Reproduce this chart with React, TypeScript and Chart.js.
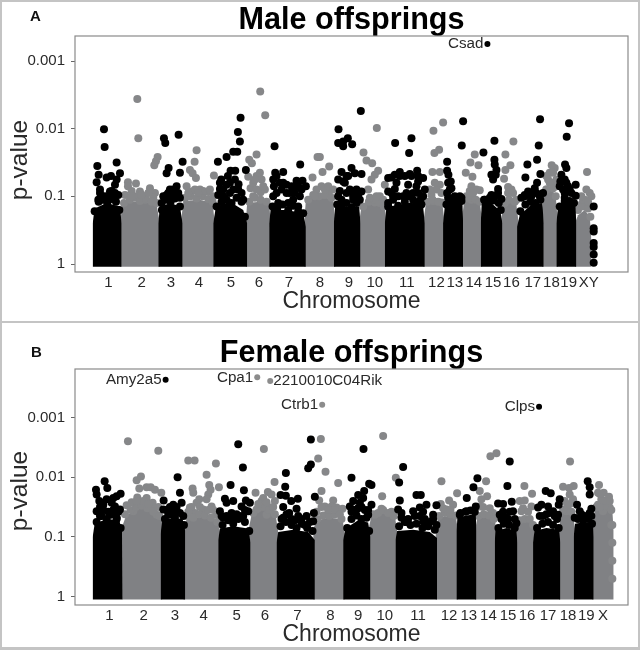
import React, { useEffect, useRef } from "react";
import { Chart, registerables } from "chart.js";

Chart.register(...registerables);

type P = [number, number];

const maleChromosomes = ["1","2","3","4","5","6","7","8","9","10","11","12","13","14","15","16","17","18","19","XY"];
const maleTickPositions = [325,425,513,597,693,777,867,960,1047,1125,1221,1310,1365,1422,1480,1535,1599,1655,1707,1767];
const femaleChromosomes = ["1","2","3","4","5","6","7","8","9","10","11","12","13","14","15","16","17","18","19","X"];
const femaleTickPositions = [328,431,525,611,710,795,893,992,1075,1155,1255,1348,1407,1466,1525,1582,1645,1705,1760,1810];
const pValueLabels = ["1", "0.1", "0.01", "0.001"];

const maleBlackMass: P[][] = [
  [[278,-.04],[278,.6],[284,.82],[320,.9],[360,.85],[365,.6],[365,-.04]],
  [[475,-.04],[475,.6],[480,.85],[512,.9],[540,.85],[548,.6],[548,-.04]],
  [[640,-.04],[640,.6],[648,.85],[690,.92],[730,.8],[742,.6],[742,-.04]],
  [[808,-.04],[808,.6],[812,.8],[860,.8],[910,.75],[918,.55],[918,-.04]],
  [[1002,-.04],[1002,.6],[1006,.85],[1045,.85],[1078,.85],[1082,.6],[1082,-.04]],
  [[1155,-.04],[1155,.6],[1160,.85],[1215,.88],[1270,.85],[1275,.6],[1275,-.04]],
  [[1330,-.04],[1330,.6],[1335,.85],[1360,.9],[1388,.9],[1390,.6],[1390,-.04]],
  [[1443,-.04],[1443,.6],[1446,.9],[1475,.9],[1502,.78],[1508,.6],[1508,-.04]],
  [[1552,-.04],[1552,.55],[1560,.72],[1595,.88],[1628,.9],[1632,.6],[1632,-.04]],
  [[1670,-.04],[1670,.6],[1675,.85],[1700,.95],[1727,.88],[1730,.6],[1730,-.04]],
];
const maleGreyMass: P[][] = [
  [[360,-.04],[360,.6],[368,.9],[420,.93],[470,.88],[480,.6],[480,-.04]],
  [[543,-.04],[543,.6],[550,.93],[600,.95],[638,.9],[645,.6],[645,-.04]],
  [[737,-.04],[737,.6],[742,.9],[780,.92],[808,.88],[813,.6],[813,-.04]],
  [[913,-.04],[913,.6],[918,.95],[965,1.0],[1000,.95],[1007,.6],[1007,-.04]],
  [[1077,-.04],[1077,.6],[1085,.85],[1125,.9],[1155,.85],[1160,.6],[1160,-.04]],
  [[1270,-.04],[1270,.6],[1278,.88],[1305,.92],[1328,.88],[1335,.6],[1335,-.04]],
  [[1385,-.04],[1385,.6],[1393,.92],[1420,.95],[1440,.92],[1448,.6],[1448,-.04]],
  [[1503,-.04],[1503,.6],[1510,.85],[1530,.92],[1550,.88],[1557,.6],[1557,-.04]],
  [[1627,-.04],[1627,.8],[1635,1.08],[1652,1.15],[1668,1.0],[1675,.6],[1675,-.04]],
  [[1725,-.04],[1725,.6],[1735,.72],[1755,.8],[1770,.7],[1775,.4],[1775,-.04]],
];
const maleBlackDots: P[] = [
  [312,1.99],[314,1.73],[292,1.45],[350,1.50],[360,1.34],[296,1.32],[290,1.21],[320,1.28],[333,1.30],[350,1.25],[345,1.17],[330,1.07],[320,1.00],[295,.95],[340,.98],
  [492,1.86],[496,1.79],[536,1.91],[506,1.42],[548,1.51],[500,1.34],[540,1.35],[530,1.15],[510,1.10],[500,1.02],[525,1.00],[485,.90],[540,.98],
  [722,2.16],[714,1.95],[720,1.81],[700,1.66],[712,1.66],[680,1.58],[654,1.51],[738,1.39],[692,1.38],[706,1.38],[664,1.25],[684,1.30],[680,1.17],[660,1.11],[716,1.18],[715,1.10],[690,1.05],[730,.95],[670,1.00],
  [824,1.74],[901,1.47],[826,1.35],[850,1.36],[820,1.25],[822,1.15],[850,1.20],[860,1.17],[890,1.23],[908,1.23],[918,1.15],[860,1.05],[880,1.12],[820,1.00],[900,1.00],[880,.95],[835,.9],[865,.9],[895,.85],
  [1016,1.99],[1083,2.26],[1044,1.86],[1015,1.79],[1030,1.81],[1030,1.74],[1057,1.77],[1055,1.42],[1065,1.34],[1085,1.33],[1025,1.36],[1015,1.25],[1030,1.22],[1045,1.30],[1050,1.10],[1070,1.10],[1085,1.07],[1015,1.00],[1025,.95],[1070,.95],
  [1235,1.86],[1186,1.79],[1228,1.64],[1252,1.38],[1200,1.36],[1185,1.32],[1230,1.33],[1165,1.27],[1200,1.30],[1235,1.30],[1270,1.27],[1255,1.22],[1250,1.15],[1225,1.17],[1185,1.11],[1165,1.07],[1275,1.10],[1180,1.00],[1210,1.00],[1270,1.00],[1240,.95],[1165,.85],
  [1390,2.11],[1386,1.75],[1342,1.51],[1342,1.38],[1346,1.32],[1353,1.22],[1355,1.12],[1342,1.05],[1385,.98],[1375,.95],[1355,.95],
  [1451,1.65],[1484,1.82],[1484,1.54],[1485,1.47],[1490,1.39],[1475,1.32],[1488,1.32],[1480,1.25],[1495,1.11],[1505,.96],[1475,1.02],[1455,.95],
  [1621,2.14],[1617,1.75],[1612,1.54],[1583,1.47],[1577,1.28],[1622,1.33],[1612,1.20],[1605,1.12],[1585,1.07],[1565,.98],[1630,1.05],[1595,1.00],
  [1708,2.08],[1701,1.88],[1696,1.47],[1700,1.42],[1685,1.32],[1682,1.22],[1705,1.15],[1728,1.17],[1728,1.01],[1695,1.05],[1695,.93],
  [1782,.85],[1782,.53],[1782,.48],[1782,.31],[1782,.25],[1782,.14],[1782,.02],
];
const maleBlackCrest: P[] = [
  [284,.78],[296,.92],[308,.95],[322,.9],[335,.96],[348,.92],[358,.8],
  [486,.8],[498,.95],[512,.92],[525,.97],[540,.85],
  [650,.85],[665,.92],[680,.95],[695,.9],[710,.98],[725,.92],[735,.7],
  [818,.85],[832,.82],[848,.88],[865,.8],[880,.86],[895,.78],[910,.75],
  [1012,.88],[1025,.85],[1040,.9],[1055,.84],[1070,.9],
  [1165,.9],[1180,.95],[1195,.86],[1215,.92],[1232,.85],[1250,.9],[1265,.88],
  [1340,.88],[1355,.92],[1372,.95],[1385,.93],
  [1453,.95],[1468,.92],[1482,.94],[1497,.9],[1503,.8],
  [1562,.78],[1577,.88],[1592,.92],[1607,.9],[1622,.95],
  [1680,.85],[1695,.98],[1710,.93],[1723,.9],
  [300,1.05],[310,1.0],[335,1.08],[345,1.05],[355,1.02],[300,1.1],
  [490,1.0],[505,1.05],[520,1.1],[535,1.05],[515,1.0],
  [655,1.02],[670,1.1],[700,1.1],[725,1.05],[705,1.25],[690,1.2],[660,1.2],
  [830,1.05],[845,1.1],[870,1.05],[905,1.1],[885,1.05],[875,1.15],[840,1.2],[830,1.3],[895,1.15],
  [1040,1.3],[1035,1.2],[1055,1.08],[1060,1.0],[1040,1.05],[1075,1.02],[1080,.95],[1060,.95],[1020,1.08],
  [1215,1.3],[1175,1.28],[1190,1.2],[1175,1.05],[1195,1.0],[1220,1.05],[1240,1.05],[1255,1.05],[1262,.95],[1225,1.0],[1255,1.3],
  [1345,1.2],[1350,1.1],[1345,.98],[1365,1.0],[1380,1.0],
  [1470,.98],[1485,1.0],[1495,1.05],
  [1575,1.02],[1590,1.05],[1600,1.05],[1610,1.05],[1575,1.0],[1620,1.0],
  [1690,1.1],[1700,1.2],[1710,1.1],[1680,1.15],[1715,1.05],[1695,1.25],
];
const maleGreyDots: P[] = [
  [412,2.44],[415,1.86],[384,1.21],[384,1.15],[408,1.19],[375,1.02],[420,1.07],[450,1.12],[465,1.05],[460,.98],[410,1.00],[435,.95],
  [473,1.58],[468,1.52],[463,1.46],
  [590,1.68],[584,1.51],[570,1.39],[578,1.34],[588,1.27],[642,1.31],[560,1.15],[600,1.10],[625,1.07],[575,1.07],[640,1.00],
  [781,2.55],[796,2.20],[770,1.62],[748,1.54],[756,1.49],[745,1.29],[780,1.35],[770,1.30],[785,1.25],[752,1.12],[782,1.06],[760,1.00],
  [953,1.58],[938,1.28],[988,1.44],[968,1.36],[960,1.58],[988,1.07],[965,1.15],
  [1131,2.01],[1091,1.65],[1100,1.53],[1117,1.49],[1135,1.38],[1125,1.32],[1115,1.25],[1155,1.17],[1105,1.10],[1125,.91],[1150,.95],
  [1330,2.09],[1301,1.97],[1318,1.69],[1304,1.64],[1298,1.36],[1320,1.36],[1320,1.17],[1310,1.10],[1300,.93],[1325,.91],[1295,1.02],
  [1425,1.62],[1412,1.50],[1436,1.46],[1398,1.35],[1418,1.29],[1415,1.15],[1440,1.09],[1400,1.00],[1415,.95],
  [1541,1.81],[1517,1.62],[1532,1.46],[1517,1.39],[1513,1.26],[1525,1.14],[1540,1.05],[1550,.95],
  [1656,1.46],[1665,1.42],[1645,1.25],[1655,1.20],[1670,1.15],[1640,1.10],
  [1762,1.36],[1760,1.10],[1770,1.05],[1775,1.00],[1755,.95],[1745,.88],
];
const maleGreyCrest: P[] = [
  [372,.9],[390,.95],[405,.98],[420,.93],[438,.96],[455,.92],[470,.9],
  [556,.98],[572,1.0],[590,.97],[608,1.0],[625,.96],[638,.92],
  [748,.92],[765,.98],[782,.95],[800,.92],
  [925,.95],[940,1.02],[958,1.0],[975,1.02],[995,.98],
  [1090,.85],[1107,.92],[1122,.95],[1140,.9],[1152,.85],
  [1283,.92],[1298,.95],[1315,.92],[1328,.9],
  [1398,.97],[1412,.98],[1428,.95],[1440,.92],
  [1515,.9],[1528,.95],[1545,.92],
  [1640,1.1],[1650,1.2],[1660,1.12],[1668,1.0],
  [1735,.8],[1750,.85],[1765,.82],[1772,.7],
  [395,1.08],[425,1.02],[445,1.05],[395,1.0],
  [565,1.05],[585,1.1],[610,1.08],[630,1.1],[595,1.05],
  [760,1.2],[770,1.1],[795,1.1],[765,1.25],[790,1.15],
  [950,1.1],[975,1.1],[985,1.15],[1000,1.1],[945,1.0],
  [1140,1.0],[1110,.98],[1130,1.0],
  [1290,1.1],[1305,1.2],[1325,1.05],
  [1410,1.08],[1430,1.1],[1420,1.05],
  [1525,1.05],[1535,1.1],
  [1650,1.35],[1640,1.3],[1660,1.35],[1670,1.25],
  [1750,.95],[1765,.92],[1745,1.0],
];
const maleGenes = [{ label: "Csad", x: 1463, y: 3.25, black: true, side: "left" }];

const femaleBlackMass: P[][] = [
  [[278,-.05],[278,1.0],[284,1.22],[320,1.3],[358,1.28],[366,1.1],[368,-.05]],
  [[482,-.05],[482,1.05],[487,1.28],[520,1.32],[548,1.3],[556,1.1],[556,-.05]],
  [[655,-.05],[655,.95],[660,1.14],[700,1.18],[745,1.14],[752,.9],[752,-.05]],
  [[830,-.05],[830,.9],[835,1.08],[880,1.12],[925,1.08],[945,.95],[945,-.05]],
  [[1030,-.05],[1030,.95],[1037,1.14],[1075,1.28],[1105,1.24],[1112,1.0],[1112,-.05]],
  [[1187,-.05],[1187,.95],[1192,1.1],[1240,1.12],[1290,1.08],[1312,.98],[1312,-.05]],
  [[1370,-.05],[1370,1.1],[1373,1.32],[1400,1.36],[1428,1.38],[1430,1.1],[1430,-.05]],
  [[1485,-.05],[1485,.9],[1487,1.1],[1520,1.15],[1550,1.1],[1553,.9],[1553,-.05]],
  [[1600,-.05],[1600,.9],[1604,1.1],[1640,1.15],[1678,1.12],[1682,.9],[1682,-.05]],
  [[1722,-.05],[1722,1.0],[1726,1.22],[1755,1.25],[1780,1.22],[1782,1.0],[1782,-.05]],
];
const femaleGreyMass: P[][] = [
  [[365,-.05],[365,1.15],[378,1.35],[420,1.5],[455,1.45],[487,1.35],[487,-.05]],
  [[550,-.05],[550,1.1],[560,1.3],[610,1.34],[652,1.3],[660,1.1],[660,-.05]],
  [[747,-.05],[747,1.15],[757,1.42],[795,1.48],[826,1.4],[835,1.1],[835,-.05]],
  [[940,-.05],[940,1.1],[948,1.28],[990,1.32],[1028,1.3],[1035,1.05],[1035,-.05]],
  [[1107,-.05],[1107,1.15],[1115,1.36],[1150,1.4],[1185,1.36],[1192,1.1],[1192,-.05]],
  [[1307,-.05],[1307,1.1],[1315,1.32],[1345,1.35],[1368,1.34],[1375,1.1],[1375,-.05]],
  [[1425,-.05],[1425,1.1],[1433,1.32],[1460,1.34],[1485,1.3],[1490,1.1],[1490,-.05]],
  [[1548,-.05],[1548,1.05],[1555,1.24],[1578,1.27],[1600,1.24],[1605,1.05],[1605,-.05]],
  [[1677,-.05],[1677,1.1],[1685,1.4],[1703,1.44],[1720,1.36],[1727,1.1],[1727,-.05]],
  [[1777,-.05],[1777,1.1],[1785,1.44],[1815,1.5],[1838,1.44],[1842,1.1],[1842,-.05]],
];
const femaleBlackDots: P[] = [
  [314,1.93],[322,1.82],[288,1.79],[290,1.71],[362,1.72],[350,1.68],[340,1.65],[298,1.60],[320,1.63],[335,1.57],[310,1.54],[345,1.51],[290,1.43],[360,1.46],[330,1.37],[300,1.35],[350,1.32],
  [533,2.00],[491,1.61],[540,1.74],[545,1.57],[520,1.54],[490,1.46],[530,1.43],[505,1.37],[550,1.35],
  [715,2.55],[729,2.16],[692,1.87],[732,1.78],[675,1.64],[700,1.60],[680,1.57],[738,1.61],[750,1.57],[725,1.51],[660,1.43],[695,1.40],[745,1.43],[720,1.35],[670,1.32],
  [933,2.63],[933,2.21],[925,2.15],[858,2.07],[856,1.84],[842,1.70],[858,1.69],[945,1.67],[894,1.64],[874,1.60],[850,1.50],[942,1.40],[890,1.47],[868,1.40],[895,1.35],[920,1.35],[850,1.32],[940,1.26],
  [1091,2.47],[1055,1.99],[1108,1.89],[1115,1.87],[1093,1.77],[1075,1.70],[1090,1.65],[1060,1.60],[1080,1.57],[1115,1.54],[1050,1.51],[1105,1.37],[1070,1.46],
  [1210,2.17],[1198,1.91],[1200,1.61],[1250,1.70],[1263,1.70],[1280,1.54],[1310,1.53],[1260,1.49],[1240,1.43],[1195,1.46],[1300,1.37],[1205,1.32],[1310,1.20],[1270,1.26],
  [1433,1.98],[1421,1.83],[1401,1.65],[1428,1.51],[1400,1.43],[1380,1.37],
  [1530,2.26],[1523,1.85],[1536,1.59],[1495,1.56],[1510,1.55],[1500,1.37],[1540,1.43],[1520,1.32],[1550,1.23],
  [1638,1.77],[1653,1.73],[1680,1.63],[1677,1.54],[1625,1.54],[1645,1.51],[1615,1.49],[1620,1.35],[1660,1.43],[1675,1.37],
  [1764,1.93],[1770,1.83],[1770,1.71],[1775,1.47],[1732,1.54],[1740,1.43],[1775,1.35],[1725,1.32],
];
const femaleBlackCrest: P[] = [
  [290,1.25],[305,1.35],[320,1.3],[335,1.38],[350,1.3],[362,1.15],
  [495,1.3],[510,1.38],[525,1.32],[540,1.4],[552,1.2],
  [668,1.2],[685,1.28],[700,1.22],[715,1.3],[735,1.25],[748,1.1],
  [842,1.18],[858,1.25],[875,1.2],[890,1.15],[905,1.22],[922,1.15],[938,1.1],
  [1042,1.15],[1055,1.3],[1070,1.36],[1085,1.3],[1100,1.32],[1108,1.1],
  [1198,1.18],[1215,1.25],[1232,1.2],[1250,1.22],[1268,1.15],[1285,1.18],[1305,1.12],
  [1382,1.4],[1397,1.42],[1412,1.44],[1425,1.42],
  [1496,1.15],[1512,1.22],[1528,1.2],[1545,1.15],
  [1612,1.15],[1628,1.22],[1645,1.25],[1660,1.2],[1677,1.15],
  [1735,1.3],[1750,1.28],[1765,1.3],[1777,1.22],
  [295,1.42],[310,1.45],[325,1.42],[340,1.45],[355,1.42],[300,1.5],
  [500,1.45],[515,1.42],[530,1.5],[510,1.5],
  [665,1.35],[680,1.35],[695,1.3],[710,1.38],[730,1.35],[735,1.45],
  [845,1.3],[860,1.38],[885,1.28],[905,1.3],[930,1.25],[875,1.3],[915,1.2],
  [1060,1.45],[1075,1.48],[1095,1.45],[1055,1.42],[1105,1.45],[1085,1.5],
  [1205,1.4],[1225,1.3],[1245,1.35],[1260,1.35],[1275,1.3],[1290,1.25],[1300,1.3],[1270,1.42],[1220,1.25],
  [1505,1.3],[1525,1.3],[1530,1.42],[1510,1.42],[1545,1.3],
  [1630,1.35],[1640,1.38],[1650,1.4],[1665,1.35],[1672,1.3],
  [1745,1.38],[1760,1.35],[1770,1.4],
];
const femaleGreyDots: P[] = [
  [384,2.60],[475,2.44],[410,1.95],[423,2.01],[418,1.81],[440,1.83],[452,1.83],[465,1.79],[484,1.74],[412,1.66],[440,1.65],[380,1.53],[458,1.57],[420,1.57],[460,1.46],[400,1.43],[470,1.37],
  [565,2.28],[584,2.28],[648,2.23],[620,2.04],[628,1.87],[657,1.83],[578,1.81],[580,1.74],[632,1.79],[625,1.71],[598,1.63],[620,1.63],[590,1.57],[570,1.49],[635,1.51],[610,1.46],[585,1.40],[650,1.37],
  [792,2.47],[824,1.92],[767,1.74],[804,1.75],[815,1.71],[790,1.65],[825,1.60],[780,1.51],[810,1.49],[800,1.37],[770,1.46],
  [963,2.64],[955,2.31],[977,2.09],[1015,1.90],[965,1.77],[1000,1.61],[1010,1.49],[975,1.51],[1028,1.47],[995,1.51],[958,1.61],
  [1150,2.69],[1188,1.99],[1147,1.68],[1145,1.47],[1175,1.42],[1125,1.37],
  [1325,1.93],[1372,1.73],[1348,1.61],[1323,1.55],[1360,1.54],[1340,1.46],
  [1459,1.93],[1440,1.77],[1462,1.68],[1445,1.63],[1472,2.35],[1490,2.40],[1440,1.51],[1480,1.40],
  [1574,1.85],[1597,1.72],[1560,1.60],[1575,1.61],[1595,1.51],[1565,1.43],
  [1711,2.26],[1690,1.84],[1722,1.85],[1708,1.82],[1710,1.71],[1720,1.63],[1700,1.43],
  [1798,1.87],[1795,1.74],[1812,1.74],[1828,1.67],[1805,1.63],[1830,1.49],[1795,1.54],[1810,1.43],[1835,1.20],
];
const femaleGreyCrest: P[] = [
  [375,1.38],[392,1.45],[408,1.5],[425,1.52],[442,1.48],[460,1.42],[478,1.35],
  [562,1.35],[580,1.32],[598,1.38],[615,1.36],[633,1.32],[652,1.25],
  [760,1.4],[775,1.48],[792,1.5],[808,1.45],[825,1.38],
  [952,1.3],[970,1.36],[988,1.35],[1005,1.38],[1025,1.3],
  [1120,1.38],[1135,1.4],[1150,1.45],[1165,1.4],[1182,1.35],
  [1318,1.35],[1335,1.4],[1352,1.38],[1368,1.36],
  [1436,1.35],[1452,1.38],[1468,1.36],[1482,1.3],
  [1560,1.28],[1575,1.3],[1590,1.3],[1600,1.2],
  [1690,1.45],[1702,1.5],[1715,1.42],
  [1790,1.5],[1805,1.55],[1820,1.52],[1835,1.45],[1838,1.2],[1838,.9],[1838,.6],[1838,.3],
  [395,1.58],[430,1.6],[445,1.55],[410,1.6],[475,1.5],
  [575,1.5],[600,1.5],[625,1.45],[640,1.45],[565,1.42],
  [785,1.6],[800,1.58],[775,1.55],[820,1.5],
  [965,1.5],[985,1.45],[1005,1.45],[1020,1.38],[950,1.42],
  [1330,1.48],[1352,1.45],
  [1450,1.5],[1470,1.48],
  [1570,1.48],[1585,1.42],
  [1695,1.6],[1710,1.55],
  [1800,1.72],[1820,1.6],[1830,1.6],[1810,1.6],[1800,1.5],
];
const femaleGenes = [
  { label: "Amy2a5", x: 497, y: 3.63, black: true, side: "left" },
  { label: "Cpa1", x: 772, y: 3.67, black: false, side: "left" },
  { label: "2210010C04Rik", x: 811, y: 3.61, black: false, side: "right" },
  { label: "Ctrb1", x: 967, y: 3.21, black: false, side: "left" },
  { label: "Clps", x: 1618, y: 3.18, black: true, side: "left" },
];

const FONT = "'Liberation Sans', Arial, sans-serif";
const BLACK = "#000000";
const GREY = "#808184";
const TEXT = "#2a2a2a";

const toXY = (pts: P[]) => pts.map(([x, y]) => ({ x, y }));

function buildChart(
  canvas: HTMLCanvasElement,
  cfg: {
    title: string; ticks: number[]; tickLabels: string[]; blackMass: P[][]; greyMass: P[][];
    blackDots: P[]; greyDots: P[]; genes: any[]; yMin: number; yMax: number; axisHeight: number;
    floor: number; yTitleCenter: number;
  }
) {
  const massSet = (pts: P[], color: string) => ({
    data: toXY(pts), showLine: true, fill: { value: cfg.floor }, backgroundColor: color, borderColor: color,
    borderWidth: 0, pointRadius: 0,
  });
  const dotSet = (pts: P[], color: string, r = 4) => ({
    data: toXY(pts), showLine: false, pointRadius: r, pointBackgroundColor: color,
    pointBorderWidth: 0, backgroundColor: color,
  });
  const geneDots = (black: boolean): P[] => cfg.genes.filter((g) => g.black === black).map((g) => [g.x, g.y] as P);

  const annotate = {
    id: "annotate",
    afterDatasetsDraw(chart: any) {
      const { ctx, chartArea: a, scales } = chart;
      ctx.save();
      ctx.strokeStyle = "#8a8a8a";
      ctx.lineWidth = 1.2;
      ctx.strokeRect(a.left, a.top, a.right - a.left, a.bottom - a.top);
      ctx.fillStyle = TEXT;
      ctx.font = `15.2px ${FONT}`;
      ctx.textBaseline = "middle";
      for (const g of cfg.genes) {
        const px = scales.x.getPixelForValue(g.x);
        const py = scales.y.getPixelForValue(g.y);
        ctx.textAlign = g.side === "left" ? "right" : "left";
        ctx.fillText(g.label, px + (g.side === "left" ? -4 : 3), py);
      }
      ctx.translate(20.5, cfg.yTitleCenter);
      ctx.rotate(-Math.PI / 2);
      ctx.textAlign = "center";
      ctx.font = `24.5px ${FONT}`;
      ctx.fillText("p-value", 0, 0);
      ctx.restore();
    },
  };

  return new Chart(canvas, {
    type: "scatter",
    data: {
      datasets: [
        dotSet(geneDots(true), BLACK, 3) as any,
        dotSet(geneDots(false), "#8c8c8c", 3) as any,
        dotSet(cfg.blackDots, BLACK),
        ...cfg.blackMass.map((m) => massSet(m, BLACK)),
        dotSet(cfg.greyDots, "#868789"),
        ...cfg.greyMass.map((m) => massSet(m, GREY)),
      ],
    },
    options: {
      animation: false,
      responsive: false,
      maintainAspectRatio: false,
      layout: { padding: { left: 0, right: 12, top: 6, bottom: 0 } },
      plugins: {
        legend: { display: false },
        tooltip: { enabled: false },
        title: {
          display: true, text: cfg.title, fullSize: false, color: "#000000", padding: 0,
          font: { family: FONT, size: 30.6, weight: "bold", lineHeight: 30 / 30.6 },
        },
      },
      scales: {
        x: {
          type: "linear", min: 225, max: 1885,
          grid: { display: false, drawTicks: false },
          border: { display: false },
          afterBuildTicks: (axis: any) => { axis.ticks = cfg.ticks.map((value) => ({ value })); },
          afterFit: (axis: any) => { axis.height = cfg.axisHeight; },
          ticks: {
            autoSkip: false, maxRotation: 0, minRotation: 0, padding: 2, color: TEXT,
            font: { family: FONT, size: 15, lineHeight: 1.2 },
            callback: (v: any) => cfg.tickLabels[cfg.ticks.indexOf(v)] ?? "",
          },
          title: {
            display: true, text: "Chromosome", color: TEXT, padding: { top: 0, bottom: cfg.axisHeight - 41 },
            font: { family: FONT, size: 23, lineHeight: 1 },
          },
        },
        y: {
          type: "linear", min: cfg.yMin, max: cfg.yMax,
          grid: { display: true, drawOnChartArea: false, tickLength: 4, tickColor: "#666666", tickWidth: 1 },
          border: { display: false },
          afterBuildTicks: (axis: any) => { axis.ticks = pValueLabels.map((_, value) => ({ value })); },
          afterFit: (axis: any) => { axis.width = 75; },
          ticks: {
            padding: 6, color: TEXT,
            font: { family: FONT, size: 15, lineHeight: 1.2 },
            callback: (v: any) => pValueLabels[v] ?? "",
          },
        },
      },
    } as any,
    plugins: [annotate],
  } as any);
}

export default function App() {
  const topRef = useRef<HTMLCanvasElement>(null);
  const bottomRef = useRef<HTMLCanvasElement>(null);

  useEffect(() => {
    const a = buildChart(topRef.current!, {
      title: "Male offsprings", ticks: maleTickPositions, tickLabels: maleChromosomes,
      blackMass: maleBlackMass, greyMass: maleGreyMass,
      blackDots: [...maleBlackDots, ...maleBlackCrest], greyDots: [...maleGreyDots, ...maleGreyCrest],
      genes: maleGenes, yMin: -0.118, yMax: 3.37, axisHeight: 50, floor: -0.04, yTitleCenter: 160,
    });
    const b = buildChart(bottomRef.current!, {
      title: "Female offsprings", ticks: femaleTickPositions, tickLabels: femaleChromosomes,
      blackMass: femaleBlackMass, greyMass: femaleGreyMass,
      blackDots: [...femaleBlackDots, ...femaleBlackCrest], greyDots: [...femaleGreyDots, ...femaleGreyCrest],
      genes: femaleGenes, yMin: -0.14, yMax: 3.81, axisHeight: 45, floor: -0.05, yTitleCenter: 158,
    });
    return () => { a.destroy(); b.destroy(); };
  }, []);

  const line = (s: React.CSSProperties) => <div style={{ position: "absolute", background: "#c4c4c4", ...s }} />;
  const letter = (t: string, left: number, top: number) => (
    <div style={{ position: "absolute", left, top, font: `bold 15px ${FONT}`, color: "#111", lineHeight: "16px" }}>{t}</div>
  );

  return (
    <div style={{ position: "fixed", left: 0, top: 0, width: 640, height: 650, background: "#fff", overflow: "hidden" }}>
      <canvas ref={topRef} width={640} height={322} style={{ position: "absolute", left: 0, top: 0, width: 640, height: 322 }} />
      <canvas ref={bottomRef} width={640} height={317} style={{ position: "absolute", left: 0, top: 333, width: 640, height: 317 }} />
      {line({ left: 0, top: 0, width: 640, height: 2 })}
      {line({ left: 0, top: 0, width: 2, height: 650 })}
      {line({ left: 638, top: 0, width: 2, height: 650 })}
      {line({ left: 0, top: 321, width: 640, height: 2 })}
      {line({ left: 0, top: 647, width: 640, height: 3 })}
      {letter("A", 30, 8)}
      {letter("B", 31, 344)}
    </div>
  );
}
